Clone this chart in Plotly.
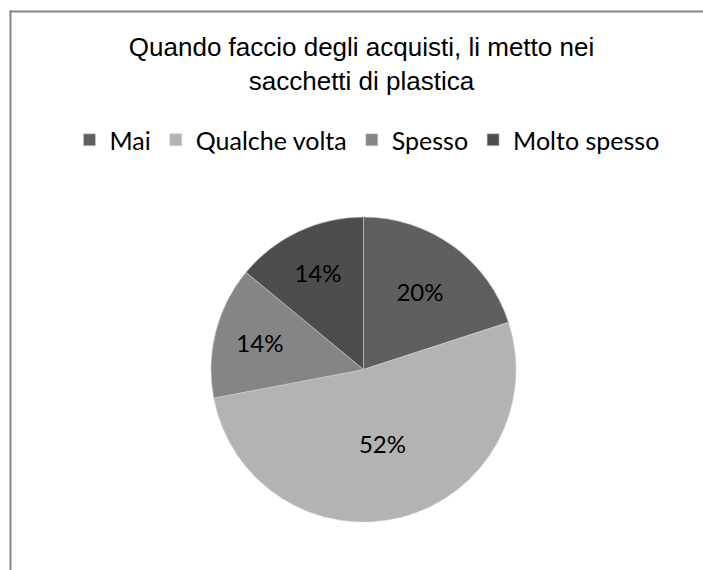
import plotly.graph_objects as go

categories = ["Mai", "Qualche volta", "Spesso", "Molto spesso"]
values = [20, 52, 14, 14]
colors = ["#5f5f5f", "#b3b3b3", "#858585", "#4d4d4d"]
title_text = "Quando faccio degli acquisti, li metto nei<br>sacchetti di plastica"

W, H = 703, 570
cx, cy, r = 363.5, 369.5, 152.5

fig = go.Figure(go.Pie(
    labels=categories,
    values=values,
    sort=False,
    direction="clockwise",
    rotation=0,
    marker=dict(colors=colors, line=dict(color="#d0d0d0", width=0.6)),
    texttemplate="%{percent:.0%}",
    textposition="inside",
    insidetextorientation="horizontal",
    textfont=dict(family="Lato, Open Sans, sans-serif", size=24, color="#000000"),
    domain=dict(x=[(cx - r) / W, (cx + r) / W], y=[1 - (cy + r) / H, 1 - (cy - r) / H]),
    hoverinfo="label+percent",
))

fig.update_layout(
    width=W, height=H,
    margin=dict(l=0, r=0, t=0, b=0),
    paper_bgcolor="#ffffff",
    plot_bgcolor="#ffffff",
    title=dict(
        text=title_text,
        x=361.5 / W, xanchor="center",
        y=1 - 56 / H, yanchor="top", yref="container",
        font=dict(family="Liberation Sans, Arial, sans-serif", size=26, color="#000000"),
    ),
    legend=dict(
        orientation="h",
        x=367 / W, xanchor="center",
        y=1 - 140 / H, yanchor="middle",
        font=dict(family="Lato, Open Sans, sans-serif", size=25, color="#000000"),
        itemwidth=30,
        tracegroupgap=0,
    ),
    shapes=[
        dict(type="line", xref="paper", yref="paper",
             x0=9.5 / W, x1=1, y0=1 - 11.5 / H, y1=1 - 11.5 / H,
             line=dict(color="#878787", width=2)),
        dict(type="line", xref="paper", yref="paper",
             x0=10.5 / W, x1=10.5 / W, y0=0, y1=1 - 10.5 / H,
             line=dict(color="#878787", width=2)),
    ],
)

fig.write_html(
    "out.html",
    config={"displayModeBar": False},
    post_script="document.body.style.margin='0';document.body.style.overflow='hidden';",
)
